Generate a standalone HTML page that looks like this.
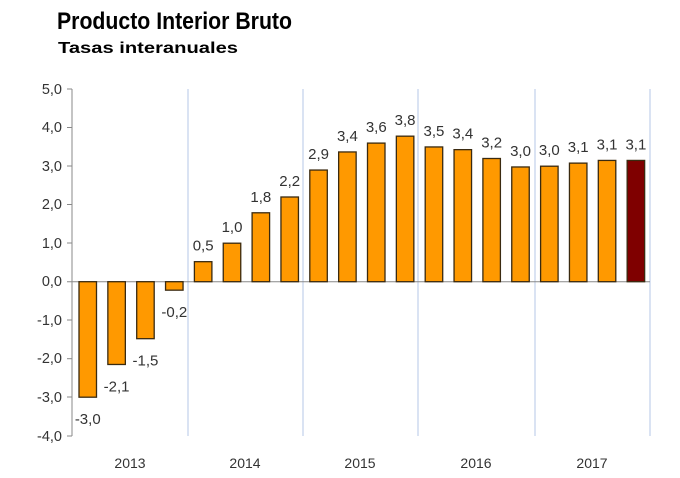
<!DOCTYPE html>
<html><head><meta charset="utf-8"><style>body{margin:0;background:#fff}svg{display:block}</style></head><body>
<svg width="680" height="478" xmlns="http://www.w3.org/2000/svg" font-family="Liberation Sans, sans-serif">
<text x="57" y="29" font-size="24" font-weight="bold" fill="#000" textLength="235" lengthAdjust="spacingAndGlyphs">Producto Interior Bruto</text>
<text x="58" y="53" font-size="16" font-weight="bold" fill="#000" textLength="180" lengthAdjust="spacingAndGlyphs">Tasas interanuales</text>
<g stroke="#b4c7e7" stroke-width="1">
<line x1="188" y1="89" x2="188" y2="436"/><line x1="303" y1="89" x2="303" y2="436"/><line x1="418" y1="89" x2="418" y2="436"/><line x1="535" y1="89" x2="535" y2="436"/><line x1="650" y1="89" x2="650" y2="436"/>
</g>
<g stroke="#888" stroke-width="1">
<line x1="72" y1="89" x2="72" y2="436"/>
<line x1="67" y1="89" x2="72" y2="89"/><line x1="67" y1="127.5" x2="72" y2="127.5"/><line x1="67" y1="166" x2="72" y2="166"/><line x1="67" y1="204.5" x2="72" y2="204.5"/><line x1="67" y1="243" x2="72" y2="243"/><line x1="67" y1="281.7" x2="650" y2="281.7"/><line x1="67" y1="320" x2="72" y2="320"/><line x1="67" y1="358.7" x2="72" y2="358.7"/><line x1="67" y1="397" x2="72" y2="397"/><line x1="67" y1="436" x2="72" y2="436"/>
</g>
<g font-size="14.5" fill="#333" text-anchor="end">
<text x="62" y="94">5,0</text><text x="62" y="132">4,0</text><text x="62" y="171">3,0</text><text x="62" y="209">2,0</text><text x="62" y="248">1,0</text><text x="62" y="286">0,0</text><text x="62" y="325">-1,0</text><text x="62" y="363">-2,0</text><text x="62" y="402">-3,0</text><text x="62" y="441">-4,0</text>
</g>
<g font-size="14" fill="#333" text-anchor="middle">
<text x="130" y="468">2013</text><text x="245" y="468">2014</text><text x="360" y="468">2015</text><text x="476" y="468">2016</text><text x="592" y="468">2017</text>
</g>
<g id="bars" stroke="#3a2a10" stroke-width="1.3" fill="#ff9900"></g>
<g id="labels" font-size="15" fill="#333" text-anchor="middle"></g>
<script>
var v=[-3.0,-2.1,-1.5,-0.2,0.5,1.0,1.8,2.2,2.9,3.4,3.6,3.8,3.5,3.4,3.2,3.0,3.0,3.1,3.1,3.1];
var hv=[-3.0,-2.15,-1.48,-0.22,0.52,1.0,1.79,2.2,2.9,3.37,3.6,3.78,3.5,3.43,3.2,2.98,3.0,3.08,3.15,3.15];
var b=document.getElementById('bars'),l=document.getElementById('labels'),ns='http://www.w3.org/2000/svg';
var z=281.7,u=38.5;
for(var i=0;i<20;i++){var x=79+i*28.85,w=17.5,y=z-hv[i]*u;
var r=document.createElementNS(ns,'rect');r.setAttribute('x',x);r.setAttribute('width',w);
r.setAttribute('y',Math.min(y,z));r.setAttribute('height',Math.abs(z-y));if(i==19)r.setAttribute('fill','#7f0000');b.appendChild(r);
var t=document.createElementNS(ns,'text');var s=v[i].toFixed(1).replace('.',',');t.textContent=s;
t.setAttribute('x',x+w/2);
if(v[i]>=0){t.setAttribute('y',y-11);}
else{t.setAttribute('y',y+27);}
l.appendChild(t);}
</script>
</svg>
</body></html>
